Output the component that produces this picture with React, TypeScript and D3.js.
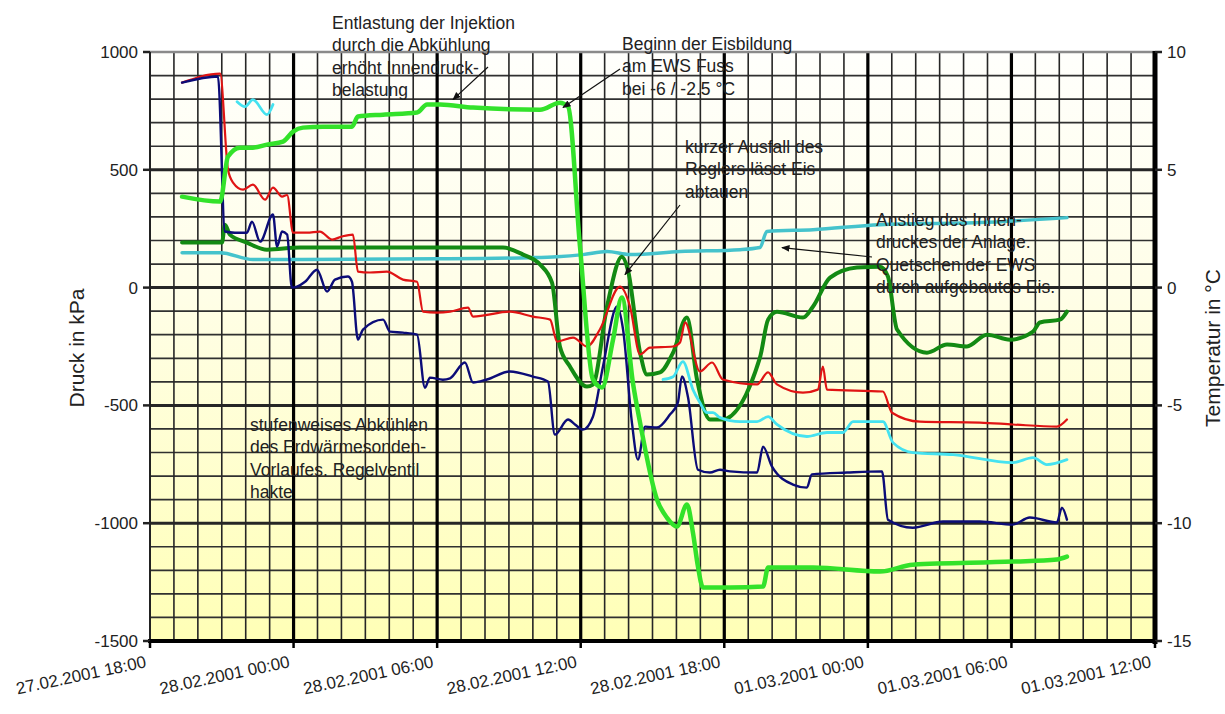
import React from "react";
import * as d3 from "d3";

// ---- Data (time in hours since 27.02.2001 18:00) ----
const xTickLabels = [
  "27.02.2001 18:00",
  "28.02.2001 00:00",
  "28.02.2001 06:00",
  "28.02.2001 12:00",
  "28.02.2001 18:00",
  "01.03.2001 00:00",
  "01.03.2001 06:00",
  "01.03.2001 12:00",
];
const xTickHours = [0, 6, 12, 18, 24, 30, 36, 42];
const leftTicks = [1000, 500, 0, -500, -1000, -1500];
const rightTicks = [10, 5, 0, -5, -10, -15];

// pressure series (kPa)
const navyPressure: [number, number][] = [
  [1.34, 870], [2.84, 896], [3.13, 238], [3.55, 233], [4.05, 233], [4.26, 280], [4.6, 195], [5.14, 310],
  [5.31, 174], [5.52, 238], [5.73, 225], [5.93, 0], [6.14, 4], [6.48, 25], [6.98, 76], [7.4, -17],
  [7.73, 34], [8.27, 47], [8.44, 25], [8.69, -221], [8.9, -178], [9.74, -136], [10.03, -187], [10.57, -191],
  [11.16, -200], [11.49, -425], [11.7, -382], [12.24, -391], [12.54, -385], [13.16, -318], [13.5, -403],
  [14.08, -390], [15.04, -356], [16.0, -378], [16.63, -399], [16.92, -624], [17.47, -560], [17.76, -581],
  [18.09, -603], [18.51, -548], [18.93, -335], [19.52, -80], [19.77, -178], [20.14, -573], [20.39, -730],
  [20.69, -590], [21.19, -594], [21.73, -539], [22.06, -488], [22.23, -377], [22.48, -463], [22.9, -773],
  [23.4, -785], [23.82, -773], [24.24, -780], [25.37, -785], [25.62, -675], [25.99, -759], [26.87, -836],
  [27.45, -849], [27.66, -793], [29.13, -785], [30.59, -780], [30.84, -985], [31.88, -1019], [33.14, -993],
  [34.68, -993], [36.06, -1006], [36.77, -976], [37.9, -997], [38.11, -934], [38.32, -985],
];
const redPressure: [number, number][] = [
  [1.34, 870], [2.93, 908], [3.26, 500], [3.47, 446], [3.89, 416], [4.3, 437], [4.81, 373], [5.14, 424],
  [5.52, 386], [5.73, 393], [5.98, 233], [6.56, 233], [7.1, 238], [7.61, 204], [8.02, 217], [8.48, 225],
  [8.69, 68], [9.19, 64], [9.9, 68], [10.57, 34], [11.16, 25], [11.41, -102], [11.99, -106], [12.54, -102],
  [13.29, -85], [13.5, -123], [15.04, -102], [16.0, -123], [16.72, -136], [17.01, -229], [17.68, -212],
  [18.26, -250], [18.8, -178], [19.64, 4], [20.06, -80], [20.48, -284], [20.89, -255], [21.86, -250],
  [22.15, -233], [22.36, -148], [22.98, -356], [23.49, -318], [23.94, -390], [25.37, -411], [25.83, -360],
  [26.2, -411], [27.29, -446], [27.91, -433], [28.12, -335], [28.29, -433], [30.63, -441], [31.01, -531],
  [32.18, -569], [34.68, -573], [36.06, -581], [37.9, -590], [38.32, -560],
];
const tealPressure: [number, number][] = [
  [1.34, 148], [2.93, 148], [4.3, 119], [12.12, 122], [15.88, 127], [17.01, 131], [18.09, 140], [19.1, 153],
  [20.06, 140], [22.15, 153], [24.66, 161], [25.49, 170], [25.78, 238], [27.71, 246], [30.51, 267],
  [34.68, 276], [38.32, 297],
];

// temperature series (°C)
const cyanTempEarly: [number, number][] = [
  [3.64, 7.89], [3.97, 7.68], [4.3, 7.98], [4.89, 7.34], [5.14, 7.77],
];
const cyanTempLate: [number, number][] = [
  [21.44, -3.9], [21.86, -3.78], [22.27, -3.14], [22.69, -4.33], [22.98, -4.88], [23.28, -5.31],
  [23.53, -5.31], [23.82, -5.52], [24.66, -5.69], [25.37, -5.69], [25.83, -5.48], [26.2, -5.81],
  [27.45, -6.32], [28.29, -6.15], [28.96, -6.15], [29.38, -5.69], [30.63, -5.69], [31.05, -6.58],
  [31.88, -7.0], [33.56, -7.09], [36.06, -7.43], [36.9, -7.22], [37.48, -7.51], [38.32, -7.3],
];
const lightGreenTemp: [number, number][] = [
  [1.34, 3.86], [2.93, 3.65], [3.26, 5.56], [3.76, 5.94], [4.3, 5.94], [4.89, 6.07], [5.56, 6.2],
  [5.98, 6.62], [6.39, 6.79], [7.23, 6.83], [8.44, 6.83], [8.69, 7.26], [9.74, 7.34], [11.16, 7.43],
  [11.58, 7.77], [12.12, 7.77], [13.5, 7.64], [16.3, 7.55], [17.13, 7.85], [17.47, 7.68], [17.97, 1.74],
  [18.51, -3.9], [18.89, -4.24], [19.35, -2.21], [19.72, -0.42], [20.18, -4.03], [20.48, -5.73],
  [21.19, -9.0], [21.6, -9.76], [22.02, -10.14], [22.44, -9.21], [22.69, -10.4], [22.9, -11.84],
  [23.11, -12.73], [24.24, -12.73], [25.62, -12.69], [25.83, -11.88], [27.71, -11.88], [30.51, -12.05],
  [31.88, -11.76], [36.06, -11.63], [37.9, -11.54], [38.32, -11.42],
];
const darkGreenTemp: [number, number][] = [
  [1.34, 1.91], [3.01, 1.91], [3.13, 2.67], [3.34, 2.25], [4.05, 1.91], [4.89, 1.61], [6.27, 1.7],
  [14.75, 1.7], [15.59, 1.4], [16.3, 0.98], [16.8, 0.21], [17.13, -2.5], [17.55, -3.35], [18.26, -4.2],
  [18.51, -4.12], [19.1, -0.8], [19.72, 1.31], [19.97, 0.76], [20.48, -2.76], [20.77, -3.69], [21.31, -3.6],
  [21.86, -2.76], [22.44, -1.27], [22.86, -3.9], [23.4, -5.6], [23.9, -5.6], [25.49, -2.97], [25.83, -1.36],
  [26.2, -1.02], [27.29, -1.27], [27.71, -0.8], [28.42, 0.42], [29.54, 0.85], [30.51, 0.89], [30.84, 0.47],
  [31.22, -1.78], [32.47, -2.76], [33.31, -2.42], [34.14, -2.5], [34.98, -2.0], [35.94, -2.21],
  [36.9, -1.87], [37.19, -1.48], [38.03, -1.36], [38.32, -1.02],
];

const FONT = "'Liberation Sans', Arial, sans-serif";

export default function App() {
  const W = 1225, H = 714;
  const L = 150, R = 1155, T = 52, B = 641;
  const x = d3.scaleLinear().domain([0, 42]).range([L, R]);
  const y = d3.scaleLinear().domain([-1500, 1000]).range([B, T]);
  const yT = d3.scaleLinear().domain([-15, 10]).range([B, T]);

  const lineP = d3.line<[number, number]>().x((d) => x(d[0])).y((d) => y(d[1])).curve(d3.curveMonotoneX);
  const lineT = d3.line<[number, number]>().x((d) => x(d[0])).y((d) => yT(d[1])).curve(d3.curveMonotoneX);

  const hGrid = d3.range(-1400, 1000, 100);
  const vGrid = d3.range(1, 42, 1);

  const textColor = "#222";
  const annotations: { x: number; y: number; lines: string[] }[] = [
    { x: 332, y: 29, lines: ["Entlastung der Injektion", "durch die Abkühlung", "erhöht Innendruck-", "belastung"] },
    { x: 622, y: 50, lines: ["Beginn der Eisbildung", "am EWS Fuss", "bei -6 / -2.5 °C"] },
    { x: 685, y: 153, lines: ["kurzer Ausfall des", "Reglers lässt Eis", "abtauen"] },
    { x: 876, y: 226, lines: ["Anstieg des Innen-", "druckes der Anlage.", "Quetschen der EWS", "durch aufgebautes Eis."] },
    { x: 250, y: 431, lines: ["stufenweises Abkühlen", "des Erdwärmesonden-", "Vorlaufes. Regelventil", "hakte"] },
  ];
  // arrows: start in pixels, tip in data coords (hours, kPa)
  const arrows: { x1: number; y1: number; h: number; v: number }[] = [
    { x1: 488, y1: 67, h: 12.66, v: 798 },
    { x1: 620, y1: 69, h: 17.26, v: 764 },
    { x1: 680, y1: 205, h: 19.85, v: 55 },
    { x1: 872, y1: 257, h: 26.41, v: 170 },
  ];

  return (
    <svg width={W} height={H} style={{ position: "absolute", left: 0, top: 0, background: "#fff" }}>
      <defs>
        <linearGradient id="bg" x1="0" y1="0" x2="0" y2="1">
          <stop offset="0%" stopColor="#fffffc" />
          <stop offset="40%" stopColor="#fffee8" />
          <stop offset="100%" stopColor="#ffffb6" />
        </linearGradient>
        <marker id="arr" viewBox="0 0 10 10" refX="9" refY="5" markerWidth="7" markerHeight="7" orient="auto">
          <path d="M0,1 L10,5 L0,9 z" fill="#111" />
        </marker>
      </defs>
      <rect x={L} y={T} width={R - L} height={B - T} fill="url(#bg)" />

      {/* grid */}
      {hGrid.map((v) => (
        <line key={"h" + v} x1={L} x2={R} y1={y(v)} y2={y(v)}
          stroke={v % 500 === 0 ? "#262626" : "#303030"} strokeWidth={v % 500 === 0 ? 3 : 1.7} />
      ))}
      {vGrid.map((h) => (
        <line key={"v" + h} x1={x(h)} x2={x(h)} y1={T} y2={B}
          stroke={h % 6 === 0 ? "#000" : "#262626"} strokeWidth={h % 6 === 0 ? 3.2 : 1.6} />
      ))}
      {/* frame */}
      <line x1={L} x2={R} y1={T} y2={T} stroke="#8a8a8a" strokeWidth={2.5} />
      <line x1={L} x2={L} y1={T} y2={B} stroke="#222" strokeWidth={2} />
      <line x1={R} x2={R} y1={T - 1} y2={B + 3} stroke="#000" strokeWidth={5} />
      <line x1={L - 2} x2={R + 2} y1={B} y2={B} stroke="#000" strokeWidth={4} />

      {/* ticks */}
      {leftTicks.map((v) => (
        <line key={"lt" + v} x1={L - 7} x2={L} y1={y(v)} y2={y(v)} stroke="#222" strokeWidth={2.5} />
      ))}
      {rightTicks.map((v) => (
        <line key={"rt" + v} x1={R} x2={R + 7} y1={yT(v)} y2={yT(v)} stroke="#222" strokeWidth={2.5} />
      ))}
      {xTickHours.map((h) => (
        <line key={"xt" + h} x1={x(h)} x2={x(h)} y1={B} y2={B + 7} stroke="#000" strokeWidth={2.5} />
      ))}

      {/* series */}
      <g fill="none" strokeLinejoin="round" strokeLinecap="round">
        <path d={lineP(tealPressure)!} stroke="#45c3cc" strokeWidth={3.5} />
        <path d={lineT(darkGreenTemp)!} stroke="#138a13" strokeWidth={4} />
        <path d={lineP(redPressure)!} stroke="#e01414" strokeWidth={2.2} />
        <path d={lineP(navyPressure)!} stroke="#0c0c78" strokeWidth={2.4} />
        <path d={lineT(lightGreenTemp)!} stroke="#33e22a" strokeWidth={4.5} />
        <path d={lineT(cyanTempEarly)!} stroke="#45e2f0" strokeWidth={2.8} />
        <path d={lineT(cyanTempLate)!} stroke="#45e2f0" strokeWidth={2.8} />
      </g>

      {/* axis labels */}
      <g fontFamily={FONT} fill={textColor}>
        {leftTicks.map((v) => (
          <text key={"ll" + v} x={L - 12} y={y(v)} dy="0.35em" textAnchor="end" fontSize={17}>{v}</text>
        ))}
        {rightTicks.map((v) => (
          <text key={"rl" + v} x={R + 12} y={yT(v)} dy="0.35em" textAnchor="start" fontSize={17}>{v}</text>
        ))}
        {xTickHours.map((h, i) => (
          <text key={"xl" + h} transform={`translate(${x(h) - 3},${667}) rotate(-12)`} textAnchor="end" fontSize={17}>
            {xTickLabels[i]}
          </text>
        ))}
        <text transform={`translate(84,348) rotate(-90)`} textAnchor="middle" fontSize={21}>Druck in kPa</text>
        <text transform={`translate(1220,348) rotate(-90)`} textAnchor="middle" fontSize={21}>Temperatur in °C</text>
      </g>

      {/* arrows */}
      {arrows.map((a, i) => (
        <line key={"a" + i} x1={a.x1} y1={a.y1} x2={x(a.h)} y2={y(a.v)} stroke="#111" strokeWidth={1.2} markerEnd="url(#arr)" />
      ))}

      {/* annotations */}
      <g fontFamily={FONT} fill={textColor} fontSize={17.5}>
        {annotations.map((a, i) => (
          <text key={"an" + i} x={a.x} y={a.y}>
            {a.lines.map((l, j) => (
              <tspan key={j} x={a.x} y={a.y + j * 22.3}>{l}</tspan>
            ))}
          </text>
        ))}
      </g>
    </svg>
  );
}
